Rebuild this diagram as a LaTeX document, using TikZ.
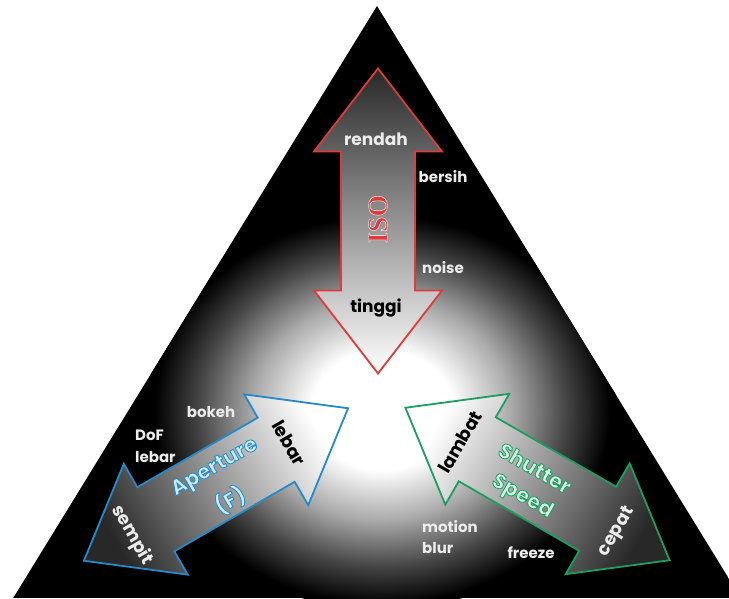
\documentclass[tikz,border=0pt]{standalone}
\usepackage{fontspec}
\setmainfont{Poppins}
\newfontfamily\isofont{Liberation Serif}
\definecolor{isored}{RGB}{220,60,60}
\definecolor{apblue}{RGB}{38,138,200}
\definecolor{apfill}{RGB}{200,236,250}
\definecolor{shgreen}{RGB}{28,158,98}
\definecolor{shfill}{RGB}{210,245,226}
\definecolor{lblwhite}{RGB}{236,236,236}
\definecolor{glowa}{RGB}{170,170,170}
\definecolor{glowb}{RGB}{70,70,70}
\definecolor{arrdark}{RGB}{40,40,40}
\pgfdeclareradialshading{glow}{\pgfpoint{0bp}{0bp}}{color(0bp)=(white); color(7.5bp)=(white); color(13.75bp)=(glowa); color(19.5bp)=(glowb); color(24.25bp)=(black); color(50bp)=(black)}

% text drawn once, filled and outlined (PDF text render mode 2)
\newcommand\outl[3]{% #1 outline rgb, #2 width, #3 text
  \special{pdf:literal direct 2 Tr #2 w #1 RG}#3\special{pdf:literal direct 0 Tr}}

\newcommand\arrowpts[1]{%
  \coordinate (#1-1) at (152.5,0);
  \coordinate (#1-2) at (69.5,64);
  \coordinate (#1-3) at (69.5,37);
  \coordinate (#1-4) at (-69.5,37);
  \coordinate (#1-5) at (-69.5,64);
  \coordinate (#1-6) at (-152.5,0);
  \coordinate (#1-7) at (-69.5,-64);
  \coordinate (#1-8) at (-69.5,-37);
  \coordinate (#1-9) at (69.5,-37);
  \coordinate (#1-10) at (69.5,-64);
}
\newcommand\arrowpath[1]{(#1-1) -- (#1-2) -- (#1-3) -- (#1-4) -- (#1-5) -- (#1-6) -- (#1-7) -- (#1-8) -- (#1-9) -- (#1-10) -- cycle}

\begin{document}
\begin{tikzpicture}[x=1pt,y=-1pt,
  lbl/.style={text=lblwhite, font=\fontsize{15}{15}\selectfont\bfseries, inner sep=0pt},
  isolbl/.style={font=\fontsize{17}{17}\selectfont\bfseries, inner sep=0pt},
  endlbl/.style={font=\fontsize{18}{18}\selectfont\bfseries, inner sep=0pt},
  namelbl/.style={font=\fontsize{21}{21}\selectfont\bfseries, inner sep=0pt},
  arrline/.style={line width=1.8pt, line join=miter}]
\useasboundingbox (0,0) rectangle (729,598);
\fill[white] (0,0) rectangle (729,598);
\begin{scope}
  \clip (0,0) rectangle (729,598);
  \clip (377,6) -- (742,600) -- (12,600) -- cycle;
  \fill[black] (0,0) rectangle (729,598);
  \shade[shading=glow] (382,410) ellipse [x radius=235, y radius=200];
\end{scope}

% arrow coordinates
\begin{scope}[shift={(378,221)}, rotate=90]\arrowpts{iso}\end{scope}
\begin{scope}[shift={(216,484.5)}, rotate=30]\arrowpts{ap}\end{scope}
\begin{scope}[shift={(537.5,484)}, rotate=150]\arrowpts{sh}\end{scope}

\shadedraw[arrline, draw=isored, top color=arrdark, bottom color=white] \arrowpath{iso};
\shadedraw[arrline, draw=apblue, bottom color=arrdark, top color=white, shading angle=-60] \arrowpath{ap};
\shadedraw[arrline, draw=shgreen, bottom color=arrdark, top color=white, shading angle=60] \arrowpath{sh};

% ISO labels
\node[isolbl, text=lblwhite] (rendah) at (376,139) {rendah};
\node[lbl] (bersih) at (443,177) {bersih};
\node[inner sep=0pt, rotate=90, text=isored, font=\isofont\bfseries\fontsize{28}{28}\selectfont] (iso) at (378,219) {\outl{0.98 0.85 0.85}{0.6}{ISO}};
\node[lbl] (noise) at (443,268) {noise};
\node[isolbl, text=black] (tinggi) at (376,308) {tinggi};

% Aperture labels
\node[lbl] (bokeh) at (211,412) {bokeh};
\node[lbl, anchor=west] (dof) at (135,435) {DoF};
\node[lbl, anchor=west] (doflebar) at (135,457) {lebar};
\node[endlbl, text=black, rotate=-60] (lebar) at (289,443) {lebar};
\node[namelbl, rotate=30, text=apfill] (aperture) at (215,468) {\outl{0.15 0.54 0.78}{0.8}{Aperture}};
\node[namelbl, rotate=30, text=apfill] (apf) at (230,500) {\outl{0.15 0.54 0.78}{0.8}{(F)}};
\node[endlbl, text=lblwhite, rotate=-60] (sempit) at (132,535) {sempit};

% Shutter labels
\node[endlbl, text=black, rotate=60] (lambat) at (460,442) {lambat};
\node[namelbl, rotate=-30, text=shfill] (shutter) at (535,468) {\outl{0.11 0.62 0.38}{0.8}{Shutter}};
\node[namelbl, rotate=-30, text=shfill] (speed) at (522,497) {\outl{0.11 0.62 0.38}{0.8}{Speed}};
\node[endlbl, text=lblwhite, rotate=60] (cepat) at (617,532) {cepat};
\node[lbl, anchor=west] (motion) at (422,527) {motion};
\node[lbl, anchor=west] (blur) at (422,548) {blur};
\node[lbl] (freeze) at (531,553) {freeze};
\end{tikzpicture}
\end{document}
